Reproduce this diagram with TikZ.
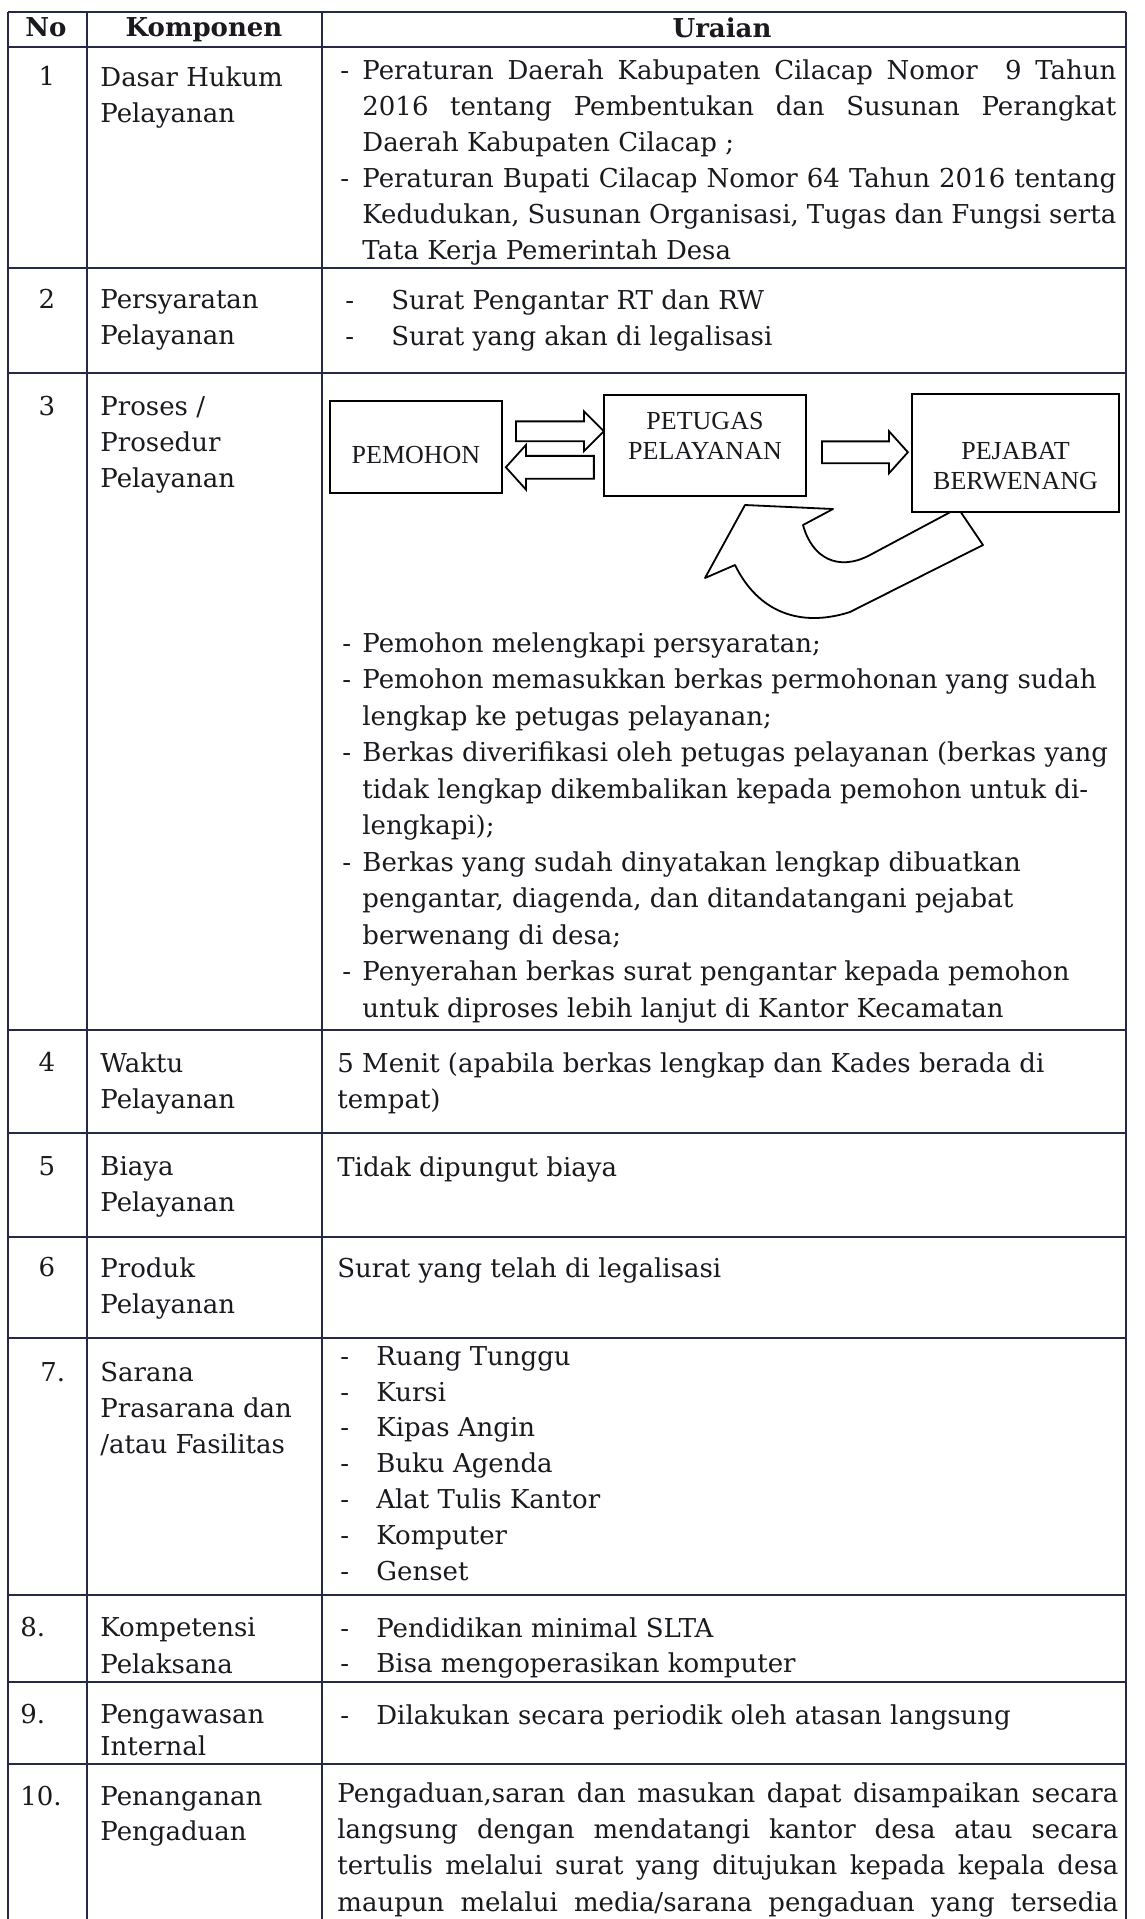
\documentclass[tikz,border=0pt]{standalone}
\usepackage{fontspec}
\setmainfont{DejaVu Serif}
\newfontfamily\kotakfont{Liberation Serif}
\usetikzlibrary{shapes.arrows, calc, positioning}
\definecolor{tinta}{RGB}{38,40,72}
\definecolor{teks}{RGB}{25,25,30}
\newcommand{\butir}[1]{\makebox[#1][l]{-}}
\newcommand{\rata}[2]{\makebox[#1][s]{#2}}

\begin{document}
\begin{tikzpicture}[
    x=0.5pt, y=-0.5pt,
    every node/.style={text=teks, inner sep=0pt},
    garis/.style={line width=1pt, draw=tinta},
    sel/.style={anchor=north west, align=left, font=\fontsize{13}{18}\selectfont},
    nomor/.style={anchor=north, font=\fontsize{13}{18}\selectfont},
    judul/.style={anchor=north, font=\fontsize{13}{18}\selectfont\bfseries},
    kotak/.style={rectangle, draw=black, line width=1pt, fill=white, align=center, font=\kotakfont\fontsize{13}{15}\selectfont},
    blok/.style={single arrow, draw=black, line width=0.9pt, fill=white, inner sep=0pt, text depth=0pt, minimum height=44pt}
]
\useasboundingbox (0,0) rectangle (1145,1919);

% TABLE LINES
\draw[garis] (8,12) -- (1126,12);
\draw[garis] (8,47) -- (1126,47);
\draw[garis] (8,268) -- (1126,268);
\draw[garis] (8,373) -- (1126,373);
\draw[garis] (8,1030) -- (1126,1030);
\draw[garis] (8,1133) -- (1126,1133);
\draw[garis] (8,1237) -- (1126,1237);
\draw[garis] (8,1338) -- (1126,1338);
\draw[garis] (8,1595) -- (1126,1595);
\draw[garis] (8,1682) -- (1126,1682);
\draw[garis] (8,1764) -- (1126,1764);
\draw[garis] (8,12) -- (8,1919);
\draw[garis] (87,12) -- (87,1919);
\draw[garis] (322,12) -- (322,1919);
\draw[garis] (1126,12) -- (1126,1919);

% HEADER
\node[judul] (hno) at (46,17) {No};
\node[judul] (hkomp) at (204,17) {Komponen};
\node[judul] (hurai) at (722,17) {Uraian};

% ROW 1
\node[nomor] (no1) at (47,66) {1};
\node[sel] (komp1) at (100,66) {Dasar Hukum\\Pelayanan};
\node[sel] (urai1) at (340,59) {\butir{11pt}\rata{377pt}{Peraturan Daerah Kabupaten Cilacap Nomor \ 9 Tahun}\\
  \hspace*{11pt}\rata{377pt}{2016 tentang Pembentukan dan Susunan Perangkat}\\
  \hspace*{11pt}Daerah Kabupaten Cilacap ;\\
  \butir{11pt}\rata{377pt}{Peraturan Bupati Cilacap Nomor 64 Tahun 2016 tentang}\\
  \hspace*{11pt}\rata{377pt}{Kedudukan, Susunan Organisasi, Tugas dan Fungsi serta}\\
  \hspace*{11pt}Tata Kerja Pemerintah Desa};

% ROW 2
\node[nomor] (no2) at (47,289) {2};
\node[sel] (komp2) at (100,289) {Persyaratan\\Pelayanan};
\node[sel] (urai2) at (345,289) {\butir{23pt}Surat Pengantar RT dan RW\\\butir{23pt}Surat yang akan di legalisasi};

% ROW 3
\node[nomor] (no3) at (47,396) {3};
\node[sel] (komp3) at (100,396) {Proses /\\Prosedur\\Pelayanan};

\draw[line width=0.9pt, fill=white, line join=round] (745,505) -- (705,578) -- (735,565)
  .. controls (758,612) and (800,628) .. (850,612) -- (983,545) -- (958,508) -- (870,555)
  .. controls (838,572) and (812,558) .. (803,525) -- (833,509) -- cycle;

\node[kotak, minimum width=86pt, minimum height=46pt, text height=16.6pt, text depth=0pt] (pemohon) at (416,447) {PEMOHON};
\node[kotak, minimum width=101pt, minimum height=50.5pt, text depth=10pt] (petugas) at (705,445.5) {PETUGAS\\PELAYANAN};
\node[kotak, minimum width=103.5pt, minimum height=59pt, text height=36pt, text depth=0pt] (pejabat) at (1015.5,453) {PEJABAT\\BERWENANG};

\node[blok, text height=9pt, single arrow head extend=5pt, single arrow tip angle=90] (maju) at ($(pemohon.east)!0.5!(petugas.west)+(2,-15)$) {};
\node[blok, text height=10.5pt, single arrow head extend=5.5pt, single arrow tip angle=96, shape border rotate=180] (balik) at ($(pemohon.east)!0.5!(petugas.west)+(2,21)$) {};
\node[blok, text height=10pt, minimum height=43pt, single arrow head extend=5pt, single arrow tip angle=96] (teruskan) at ($(petugas.east)!0.5!(pejabat.west)+(1,3)$) {};

\node[sel, font=\fontsize{13}{18.25}\selectfont] (urai3) at (342,632) {\butir{10pt}Pemohon melengkapi persyaratan;\\
  \butir{10pt}Pemohon memasukkan berkas permohonan yang sudah\\
  \hspace*{10pt}lengkap ke petugas pelayanan;\\
  \butir{10pt}Berkas diverifikasi oleh petugas pelayanan (berkas yang\\
  \hspace*{10pt}tidak lengkap dikembalikan kepada pemohon untuk di-\\
  \hspace*{10pt}lengkapi);\\
  \butir{10pt}Berkas yang sudah dinyatakan lengkap dibuatkan\\
  \hspace*{10pt}pengantar, diagenda, dan ditandatangani pejabat\\
  \hspace*{10pt}berwenang di desa;\\
  \butir{10pt}Penyerahan berkas surat pengantar kepada pemohon\\
  \hspace*{10pt}untuk diproses lebih lanjut di Kantor Kecamatan};

% ROW 4
\node[nomor] (no4) at (47,1052) {4};
\node[sel] (komp4) at (100,1052) {Waktu\\Pelayanan};
\node[sel] (urai4) at (337,1052) {5 Menit (apabila berkas lengkap dan Kades berada di\\tempat)};

% ROW 5
\node[nomor] (no5) at (47,1156) {5};
\node[sel] (komp5) at (100,1156) {Biaya\\Pelayanan};
\node[sel] (urai5) at (337,1156) {Tidak dipungut biaya};

% ROW 6
\node[nomor] (no6) at (47,1257) {6};
\node[sel] (komp6) at (100,1257) {Produk\\Pelayanan};
\node[sel] (urai6) at (337,1257) {Surat yang telah di legalisasi};

% ROW 7
\node[sel] (no7) at (40,1362) {7.};
\node[sel] (komp7) at (100,1362) {Sarana\\Prasarana dan\\/atau Fasilitas};
\node[sel, font=\fontsize{13}{17.9}\selectfont] (urai7) at (340,1346) {\butir{18pt}Ruang Tunggu\\\butir{18pt}Kursi\\\butir{18pt}Kipas Angin\\
  \butir{18pt}Buku Agenda\\\butir{18pt}Alat Tulis Kantor\\\butir{18pt}Komputer\\\butir{18pt}Genset};

% ROW 8
\node[sel] (no8) at (20,1617) {8.};
\node[sel, font=\fontsize{13}{18.5}\selectfont] (komp8) at (100,1617) {Kompetensi\\Pelaksana};
\node[sel, font=\fontsize{13}{17.5}\selectfont] (urai8) at (340,1617) {\butir{18pt}Pendidikan minimal SLTA\\\butir{18pt}Bisa mengoperasikan komputer};

% ROW 9
\node[sel] (no9) at (20,1704) {9.};
\node[sel, font=\fontsize{13}{16}\selectfont] (komp9) at (100,1704) {Pengawasan\\Internal};
\node[sel] (urai9) at (340,1704) {\butir{18pt}Dilakukan secara periodik oleh atasan langsung};

% ROW 10
\node[sel] (no10) at (20,1786) {10.};
\node[sel, font=\fontsize{13}{17.5}\selectfont] (komp10) at (100,1786) {Penanganan\\Pengaduan};
\node[sel, font=\fontsize{13}{18.2}\selectfont] (urai10) at (337,1782) {\rata{390.5pt}{Pengaduan,saran dan masukan dapat disampaikan secara}\\
  \rata{390.5pt}{langsung dengan mendatangi kantor desa atau secara}\\
  \rata{390.5pt}{tertulis melalui surat yang ditujukan kepada kepala desa}\\
  \rata{390.5pt}{maupun melalui media/sarana pengaduan yang tersedia}};

\end{tikzpicture}
\end{document}
